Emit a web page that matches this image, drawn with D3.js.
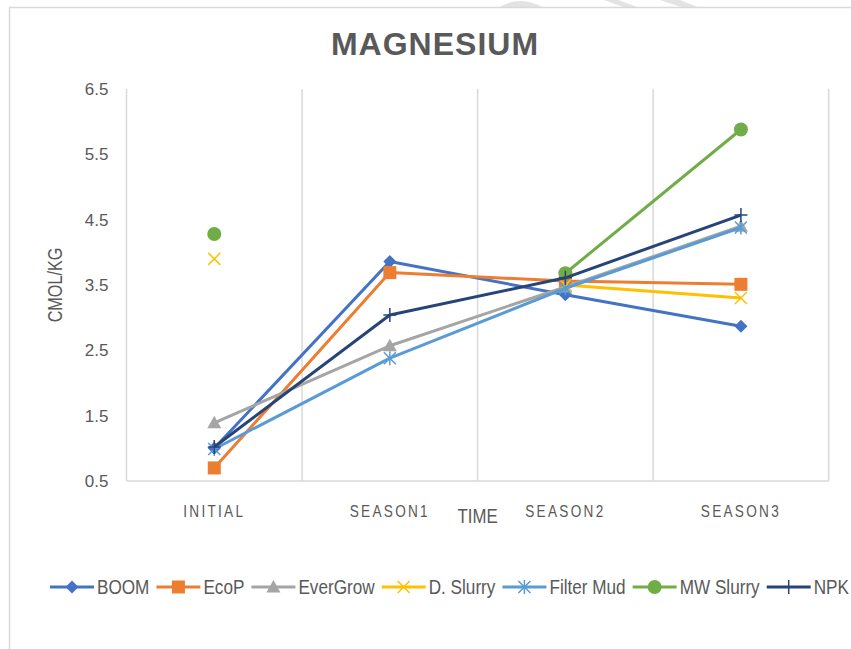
<!DOCTYPE html>
<html>
<head>
<meta charset="utf-8">
<script src="https://cdn.jsdelivr.net/npm/d3@7"></script>
<style>
  body { margin: 0; background: #fff; }
  svg { display: block; }
  text { font-family: "Liberation Sans", Arial, sans-serif; }
</style>
</head>
<body>
<div id="chart"></div>
<script>
// chart data
var categories = ["INITIAL", "SEASON1", "SEASON2", "SEASON3"];
var seriesNames = ["BOOM", "EcoP", "EverGrow", "D. Slurry", "Filter Mud", "MW Slurry", "NPK"];
var boom = [1.0, 3.86, 3.35, 2.87];
var ecoP = [0.7, 3.69, 3.56, 3.51];
var everGrow = [1.39, 2.57, 3.47, 4.4];
var dSlurry = [3.9, null, 3.5, 3.3];
var filterMud = [0.99, 2.38, 3.45, 4.38];
var mwSlurry = [4.28, null, 3.68, 5.88];
var npk = [1.02, 3.04, 3.61, 4.57];
var yTicks = [0.5, 1.5, 2.5, 3.5, 4.5, 5.5, 6.5];

var seriesValues = [boom, ecoP, everGrow, dSlurry, filterMud, mwSlurry, npk];
var colors = ["#4472C4", "#ED7D31", "#A5A5A5", "#FFC000", "#5B9BD5", "#70AD47", "#264478"];
var markers = ["diamond", "square", "triangle", "x", "star", "circle", "plus"];

var svgWidth = 851;
var svgHeight = 649;

// plot area
var margin = { top: 89, right: 22.3, bottom: 168, left: 126.5 };
var width = svgWidth - margin.left - margin.right;
var height = svgHeight - margin.top - margin.bottom;

var svg = d3.select("#chart")
  .append("svg")
  .attr("width", svgWidth)
  .attr("height", svgHeight);

// the chart font is a condensed one, so squeeze text sideways
function narrowText(sel, x, y, sx, rot) {
  sel.attr("x", 0).attr("y", 0)
    .attr("transform", `translate(${x}, ${y})` + (rot ? ` rotate(${rot})` : "") + ` scale(${sx}, 1)`);
  return sel;
}

// faint watermark bits peeking above the frame
var wm = svg.append("g").attr("fill", "#e3e3e3");
wm.append("path").attr("d", "M498,8 Q520,-6 544,8 Z");
wm.append("path").attr("d", "M604,0 L618,0 L640,8 L626,8 Z");
wm.append("path").attr("d", "M660,0 L680,0 L700,8 L684,8 Z");

// frame of the chart object
svg.append("path")
  .attr("d", "M9.5," + svgHeight + " L9.5,7.5 L" + svgWidth + ",7.5")
  .attr("fill", "none")
  .attr("stroke", "#d9d9d9")
  .attr("stroke-width", 1.5);

// title
svg.append("text")
  .attr("x", 435)
  .attr("y", 55)
  .attr("text-anchor", "middle")
  .attr("font-weight", "bold")
  .attr("font-size", 32)
  .attr("letter-spacing", 1)
  .attr("fill", "#595959")
  .text("MAGNESIUM");

var chartGroup = svg.append("g")
  .attr("transform", `translate(${margin.left}, ${margin.top})`);

var xBand = d3.scaleBand()
  .domain(categories)
  .range([0, width]);

var yLinearScale = d3.scaleLinear()
  .domain([0.5, 6.5])
  .range([height, 0]);

// vertical gridlines at category boundaries
var bounds = categories.map(c => xBand(c)).concat([width]);
chartGroup.selectAll(".vgrid")
  .data(bounds)
  .enter()
  .append("line")
  .attr("class", "vgrid")
  .attr("x1", d => d)
  .attr("x2", d => d)
  .attr("y1", 0)
  .attr("y2", height)
  .attr("stroke", "#d9d9d9")
  .attr("stroke-width", 1.5);

// category axis line
chartGroup.append("line")
  .attr("x1", 0)
  .attr("x2", width)
  .attr("y1", height)
  .attr("y2", height)
  .attr("stroke", "#d9d9d9")
  .attr("stroke-width", 1.5);

// y axis labels (no line, no ticks)
var leftAxis = d3.axisLeft(yLinearScale)
  .tickValues(yTicks)
  .tickFormat(d3.format(".1f"))
  .tickSize(0)
  .tickPadding(18);

var yAxis = chartGroup.append("g").call(leftAxis);
yAxis.select(".domain").remove();
yAxis.selectAll("text")
  .attr("font-family", null)
  .attr("font-size", 17)
  .attr("fill", "#595959");

// x axis labels
var bottomAxis = d3.axisBottom(xBand).tickSize(0).tickPadding(0);
var xAxis = chartGroup.append("g")
  .attr("transform", `translate(0, ${height})`)
  .call(bottomAxis);
xAxis.select(".domain").remove();
xAxis.selectAll("text")
  .attr("dy", null)
  .attr("font-family", null)
  .attr("font-size", 16)
  .attr("letter-spacing", 2.7)
  .attr("fill", "#595959")
  .each(function () { narrowText(d3.select(this), 0, 36, 0.85); });

// axis titles
narrowText(chartGroup.append("text"), width / 2, height + 42, 0.84)
  .attr("text-anchor", "middle")
  .attr("font-size", 20)
  .attr("fill", "#595959")
  .text("TIME");

narrowText(chartGroup.append("text"), 62 - margin.left, height / 2, 0.81, -90)
  .attr("text-anchor", "middle")
  .attr("font-size", 20)
  .attr("fill", "#595959")
  .text("CMOL/KG");

// marker drawing
function drawMarker(g, type, color) {
  if (type == "diamond") {
    g.append("path").attr("d", "M0,-6.5 L6.5,0 L0,6.5 L-6.5,0 Z").attr("fill", color);
  } else if (type == "square") {
    g.append("rect").attr("x", -6.5).attr("y", -6.5).attr("width", 13).attr("height", 13).attr("fill", color);
  } else if (type == "triangle") {
    g.append("path").attr("d", "M0,-7 L7,5.5 L-7,5.5 Z").attr("fill", color);
  } else if (type == "circle") {
    g.append("circle").attr("r", 7).attr("fill", color);
  } else if (type == "x") {
    g.append("path").attr("d", "M-6,-6 L6,6 M-6,6 L6,-6").attr("stroke", color).attr("stroke-width", 1.5);
  } else if (type == "star") {
    g.append("path").attr("d", "M-6,-6 L6,6 M-6,6 L6,-6 M0,-7 L0,7").attr("stroke", color).attr("stroke-width", 1.5);
  } else if (type == "plus") {
    g.append("path").attr("d", "M-6.5,0 L6.5,0 M0,-7 L0,7").attr("stroke", color).attr("stroke-width", 1.5);
  }
}

var xCenter = c => xBand(c) + xBand.bandwidth() / 2;

var line = d3.line()
  .defined(d => d.v != null)
  .x(d => xCenter(d.c))
  .y(d => yLinearScale(d.v));

seriesNames.forEach(function (name, i) {
  var pts = categories.map((c, j) => ({ c: c, v: seriesValues[i][j] }));
  var sg = chartGroup.append("g");
  sg.append("path")
    .datum(pts)
    .attr("d", line)
    .attr("fill", "none")
    .attr("stroke", colors[i])
    .attr("stroke-width", 3)
    .attr("stroke-linejoin", "round");
  pts.filter(d => d.v != null).forEach(function (d) {
    var mg = sg.append("g")
      .attr("transform", `translate(${xCenter(d.c)}, ${yLinearScale(d.v)})`);
    drawMarker(mg, markers[i], colors[i]);
  });
});

// legend
var legend = svg.append("g").attr("transform", "translate(0, 587)");
var lx = 50;
seriesNames.forEach(function (name, i) {
  var item = legend.append("g").attr("transform", `translate(${lx}, 0)`);
  item.append("line")
    .attr("x1", 0).attr("x2", 44)
    .attr("y1", 0).attr("y2", 0)
    .attr("stroke", colors[i])
    .attr("stroke-width", 3);
  var mg = item.append("g").attr("transform", "translate(22, 0)");
  drawMarker(mg, markers[i], colors[i]);
  var t = narrowText(item.append("text"), 47, 7, 0.88)
    .attr("font-size", 19.5)
    .attr("fill", "#595959")
    .text(name);
  lx += 47 + t.node().getComputedTextLength() * 0.88 + 7;
});
</script>
</body>
</html>
